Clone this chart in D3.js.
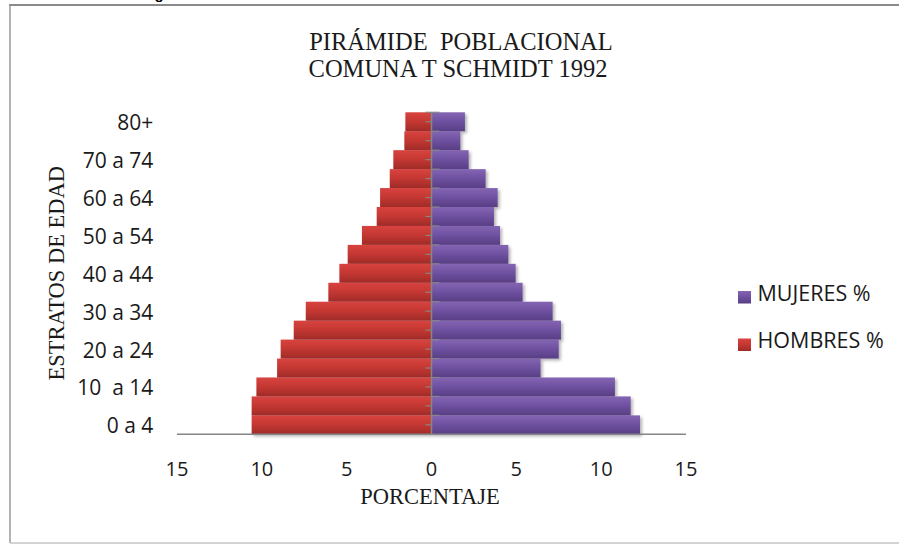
<!DOCTYPE html>
<html>
<head>
<meta charset="utf-8">
<script src="https://cdn.jsdelivr.net/npm/d3@7"></script>
<style>
  body { margin: 0; background: #fff; }
  svg { display: block; }
  .lbl { font-family: "Open Sans", sans-serif; fill: #1a1a1a; }
  .serif { font-family: "Liberation Serif", "Times New Roman", serif; fill: #1a1a1a; }
</style>
</head>
<body>
<svg id="chart" width="899" height="545"></svg>
<script>
// ── Datos ───────────────────────────────────────────────────────────
const AGES = ["0 a 4", "5 a 9", "10  a 14", "15 a 19", "20 a 24", "25 a 29",
  "30 a 34", "35 a 39", "40 a 44", "45 a 49", "50 a 54", "55 a 59",
  "60 a 64", "65 a 69", "70 a 74", "75 a 79", "80+"];

const HOMBRES = [10.60, 10.60, 10.32, 9.10, 8.89, 8.12, 7.41, 6.08, 5.43,
  4.94, 4.10, 3.23, 3.03, 2.46, 2.25, 1.60, 1.54];

const MUJERES = [12.29, 11.74, 10.81, 6.43, 7.50, 7.63, 7.14, 5.37, 4.96,
  4.53, 4.04, 3.68, 3.90, 3.19, 2.19, 1.70, 1.97];

const X_TICKS = [-15, -10, -5, 0, 5, 10, 15];

const SERIES = [
  { name: "MUJERES %", id: "gMuj" },
  { name: "HOMBRES %", id: "gHom" }
];

// ── SVG ─────────────────────────────────────────────────────────────
const svg = d3.select("#chart");
svg.append("rect").attr("width", 899).attr("height", 545).attr("fill", "#fff");

const defs = svg.append("defs");
function grad(id, stops) {
  const g = defs.append("linearGradient").attr("id", id)
    .attr("x1", 0).attr("y1", 0).attr("x2", 0).attr("y2", 1);
  stops.forEach(([o, c]) => g.append("stop").attr("offset", o).attr("stop-color", c));
}
grad("gHom", [["0%", "#d8433f"], ["45%", "#c63833"], ["100%", "#9f2b28"]]);
grad("gMuj", [["0%", "#8465b3"], ["45%", "#7052a2"], ["100%", "#583e84"]]);

const shadow = defs.append("filter").attr("id", "shadow")
  .attr("x", "-5%").attr("y", "-20%").attr("width", "115%").attr("height", "160%");
shadow.append("feDropShadow").attr("dx", 2).attr("dy", 2)
  .attr("stdDeviation", 1.5).attr("flood-color", "#000").attr("flood-opacity", 0.3);

// marco
svg.append("line").attr("x1", 9).attr("x2", 899).attr("y1", 5).attr("y2", 5)
  .attr("stroke", "#8a8a8a").attr("stroke-width", 2);
svg.append("line").attr("x1", 10).attr("x2", 10).attr("y1", 5).attr("y2", 543)
  .attr("stroke", "#9a9a9a").attr("stroke-width", 1.5);
svg.append("line").attr("x1", 10).attr("x2", 899).attr("y1", 543).attr("y2", 543)
  .attr("stroke", "#c4c4c4").attr("stroke-width", 1.5);

svg.append("text").attr("x", 159).attr("y", -1).attr("text-anchor", "middle")
  .style("font", "bold 15px 'Liberation Sans', sans-serif").text("g");

// ── Escalas ─────────────────────────────────────────────────────────
const x = d3.scaleLinear().domain([-15, 15]).range([177, 686]);
const y = d3.scaleBand().domain(AGES).range([434.3, 112.3]).padding(0);
const bw = y.bandwidth();

// ── Barras ──────────────────────────────────────────────────────────
const gBars = svg.append("g").attr("filter", "url(#shadow)");

gBars.selectAll("rect.h")
  .data(AGES.map((a, i) => ({ age: a, v: HOMBRES[i] })))
  .join("rect")
  .attr("class", "h")
  .attr("x", d => x(-d.v))
  .attr("y", d => y(d.age))
  .attr("width", d => x(0) - x(-d.v))
  .attr("height", bw)
  .attr("fill", "url(#gHom)");

gBars.selectAll("rect.m")
  .data(AGES.map((a, i) => ({ age: a, v: MUJERES[i] })))
  .join("rect")
  .attr("class", "m")
  .attr("x", x(0))
  .attr("y", d => y(d.age))
  .attr("width", d => x(d.v) - x(0))
  .attr("height", bw)
  .attr("fill", "url(#gMuj)");

// ── Ejes ────────────────────────────────────────────────────────────
const axisCol = "#868686";
svg.append("line")
  .attr("x1", x(-15)).attr("x2", x(15)).attr("y1", 434.3).attr("y2", 434.3)
  .attr("stroke", axisCol).attr("stroke-width", 1.5);
svg.append("line")
  .attr("x1", x(0)).attr("x2", x(0)).attr("y1", 112.3).attr("y2", 434.3)
  .attr("stroke", axisCol).attr("stroke-width", 1.5);

// marcas del eje vertical
svg.append("g").selectAll("line.mid").data(AGES).join("line")
  .attr("x1", x(0) - 6).attr("x2", x(0))
  .attr("y1", d => y(d) + bw / 2).attr("y2", d => y(d) + bw / 2)
  .attr("stroke", axisCol).attr("stroke-width", 1.2);
svg.append("g").selectAll("line.bd").data(AGES).join("line")
  .attr("x1", d => d === "80+" ? x(0) - 6 : x(0)).attr("x2", x(0) + 8)
  .attr("y1", d => y(d)).attr("y2", d => y(d))
  .attr("stroke", axisCol).attr("stroke-width", 1.2);

// etiquetas categorias (una de cada dos)
svg.append("g").selectAll("text").data(AGES.filter((a, i) => i % 2 === 0)).join("text")
  .attr("class", "lbl")
  .attr("x", 153.3)
  .attr("y", d => y(d) + bw / 2 + 8.5)
  .attr("text-anchor", "end")
  .attr("xml:space", "preserve")
  .style("white-space", "pre")
  .style("font-size", "21px")
  .text(d => d);

// etiquetas eje x
svg.append("g").selectAll("text").data(X_TICKS).join("text")
  .attr("class", "lbl")
  .attr("x", d => x(d))
  .attr("y", 475.8)
  .attr("text-anchor", "middle")
  .style("font-size", "20px")
  .text(d => Math.abs(d));

// ── Títulos ─────────────────────────────────────────────────────────
const title = svg.append("text").attr("class", "serif")
  .attr("text-anchor", "middle").style("font-size", "24.5px")
  .style("white-space", "pre");
title.append("tspan").attr("x", 461).attr("y", 50).text("PIRÁMIDE  POBLACIONAL");
title.append("tspan").attr("x", 458).attr("y", 77).text("COMUNA T SCHMIDT 1992");

svg.append("text").attr("class", "serif")
  .attr("x", 430).attr("y", 503.6).attr("text-anchor", "middle")
  .style("font-size", "22.5px").text("PORCENTAJE");

svg.append("text").attr("class", "serif")
  .attr("transform", "translate(64,273.3) rotate(-90)")
  .attr("text-anchor", "middle")
  .style("font-size", "22.5px").text("ESTRATOS DE EDAD");

// ── Leyenda ─────────────────────────────────────────────────────────
const leg = svg.append("g").selectAll("g").data(SERIES).join("g")
  .attr("transform", (d, i) => `translate(738,${291 + i * 47.5})`);
leg.append("rect").attr("width", 13).attr("height", 12.5)
  .attr("fill", d => `url(#${d.id})`);
leg.append("text").attr("class", "lbl")
  .attr("x", 19.5).attr("y", 9.7)
  .style("font-size", "21.5px")
  .text(d => d.name);
</script>
</body>
</html>
